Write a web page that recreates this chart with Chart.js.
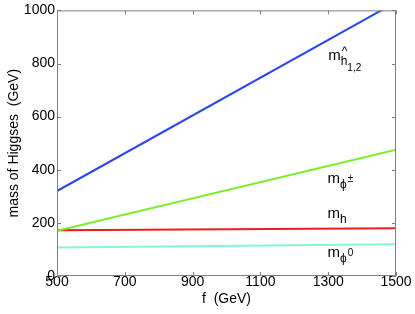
<!DOCTYPE html>
<html>
<head>
<meta charset="utf-8">
<script src="https://cdn.jsdelivr.net/npm/chart.js@4"></script>
<style>
  html, body { margin: 0; padding: 0; background: #fff; }
  #wrap { width: 415px; height: 314px; }
</style>
</head>
<body>
<div id="wrap"><canvas id="chart0"></canvas></div>
<script>
// values (f in GeV -> mass in GeV)
const fValues = [500, 1500];
const massHhat = [320, 1031];
const massPhiPm = [170, 475];
const massH = [172, 180];
const massPhi0 = [107, 120];

const xTicks = [500, 700, 900, 1100, 1300, 1500];
const yTicks = [0, 200, 400, 600, 800, 1000];

// label anchors in data coordinates
const labelPos = [
    { x: 1300, y: 815, main: "m", sub: "h", hat: true, sub2: "1,2" },
    { x: 1298, y: 352, main: "m", sub: "\u03d5", sup: "\u00b1" },
    { x: 1298, y: 220, main: "m", sub: "h" },
    { x: 1298, y: 72, main: "m", sub: "\u03d5", sup: "0" },
];

const FONT = "'Liberation Sans', Arial, sans-serif";

function toPoints(ys) {
    return fValues.map((x, i) => ({ x: x, y: ys[i] }));
}

function makeSet(label, ys, color) {
    return {
        label: label,
        data: toPoints(ys),
        borderColor: color,
        backgroundColor: color,
        borderWidth: 2,
        pointRadius: 0,
        showLine: true,
    };
}

// box frame with inward ticks on all sides, matlab style
const framePlugin = {
    id: "frame",
    afterDraw(chart) {
        const ctx = chart.ctx;
        const a = chart.chartArea;
        const xs = chart.scales.x;
        const ys = chart.scales.y;
        ctx.save();
        ctx.strokeStyle = "#7f7f7f";
        ctx.lineWidth = 1;
        ctx.strokeRect(a.left + 0.5, a.top + 0.5, a.right - a.left - 1, a.bottom - a.top - 1);
        ctx.beginPath();
        xTicks.forEach(v => {
            const px = Math.round(xs.getPixelForValue(v)) + 0.5;
            ctx.moveTo(px, a.bottom); ctx.lineTo(px, a.bottom - 4);
            ctx.moveTo(px, a.top); ctx.lineTo(px, a.top + 4);
        });
        yTicks.forEach(v => {
            const py = Math.round(ys.getPixelForValue(v)) + 0.5;
            ctx.moveTo(a.left, py); ctx.lineTo(a.left + 4, py);
            ctx.moveTo(a.right, py); ctx.lineTo(a.right - 4, py);
        });
        ctx.stroke();

        // curve labels
        ctx.fillStyle = "#000";
        ctx.textBaseline = "alphabetic";
        ctx.textAlign = "left";
        labelPos.forEach(l => {
            let px = xs.getPixelForValue(l.x);
            let py = ys.getPixelForValue(l.y);
            ctx.font = "15px " + FONT;
            ctx.fillText(l.main, px, py);
            px += ctx.measureText(l.main).width;
            ctx.font = "12px " + FONT;
            ctx.fillText(l.sub, px, py + 5);
            const subW = ctx.measureText(l.sub).width;
            if (l.hat) {
                ctx.fillText("^", px + 1, py - 5);
            }
            px += subW;
            if (l.sup) {
                ctx.font = "10px " + FONT;
                ctx.fillText(l.sup, px + 1, py - 1);
            }
            if (l.sub2) {
                ctx.font = "10px " + FONT;
                ctx.fillText(l.sub2, px, py + 11);
            }
        });
        ctx.restore();
    }
};

const ctx = document.getElementById("chart0").getContext("2d");
window.chart = new Chart(ctx, {
    type: "scatter",
    data: {
        datasets: [
            makeSet("m_h^1,2", massHhat, "#2845f5"),
            makeSet("m_phi+-", massPhiPm, "#7ded2a"),
            makeSet("m_h", massH, "#f21a1a"),
            makeSet("m_phi0", massPhi0, "#86f5d8"),
        ],
    },
    options: {
        responsive: true,
        maintainAspectRatio: false,
        animation: false,
        layout: { padding: { top: 10, right: 19, left: 6, bottom: 0 } },
        plugins: {
            legend: { display: false },
            tooltip: { enabled: false },
        },
        scales: {
            x: {
                type: "linear",
                min: 500,
                max: 1500,
                afterBuildTicks: (s) => { s.ticks = xTicks.map(v => ({ value: v })); },
                afterFit: (s) => { s.height = 38; },
                ticks: { color: "#000", font: { family: FONT, size: 14 }, padding: -2, maxRotation: 0, callback: (v) => String(v) },
                grid: { display: false, drawTicks: false },
                border: { display: false },
                title: { display: true, text: "f  (GeV)", color: "#000", font: { family: FONT, size: 14 }, padding: { top: 0, bottom: 6 } },
            },
            y: {
                type: "linear",
                min: 0,
                max: 1000,
                afterBuildTicks: (s) => { s.ticks = yTicks.map(v => ({ value: v })); },
                afterFit: (s) => { s.width = 51; },
                ticks: { color: "#000", font: { family: FONT, size: 14 }, padding: 2, callback: (v) => String(v) },
                grid: { display: false, drawTicks: false },
                border: { display: false },
                title: { display: true, text: "mass of Higgses  (GeV)", color: "#000", font: { family: FONT, size: 14 }, padding: { top: 0, bottom: 0 } },
            },
        },
    },
    plugins: [framePlugin],
});
</script>
</body>
</html>
